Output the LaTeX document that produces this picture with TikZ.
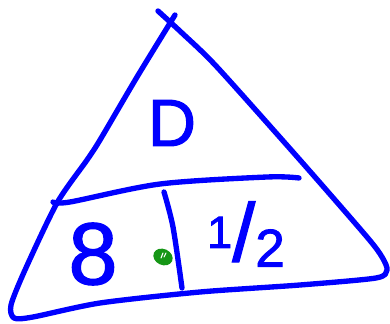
\documentclass[tikz,border=0pt]{standalone}
\usepackage{fontspec}
\newfontfamily\hand[FakeBold=1.5]{Liberation Sans}
\definecolor{pen}{rgb}{0,0,1}
\definecolor{dotgreen}{RGB}{22,150,22}
\begin{document}
\begin{tikzpicture}[x=0.75pt,y=-0.75pt,
  penline/.style={draw=pen,line width=4pt,line cap=round,line join=round},
  handtext/.style={text=pen,inner sep=0pt,font=\hand}]
\useasboundingbox (0,0) rectangle (390,324);
% outer triangle stroke
\draw[penline] plot[smooth,tension=0.45] coordinates {(175,15) (137,77) (100,140) (87,160) (57,203) (25,270) (11,305) (14,318) (33,317) (100,303) (200,292) (300,285) (376,278) (387,270) (382,257) (367,237) (300,160) (217,67) (182,33) (158,11)};
% horizontal divider
\draw[penline] plot[smooth,tension=0.5] coordinates {(53,202) (70,202) (160,184) (267,177) (299,178)};
% vertical divider
\draw[penline] plot[smooth,tension=0.5] coordinates {(164,192) (173,227) (182,288)};
% texts
\node[handtext,font=\hand\fontsize{50}{50}\selectfont] (d) at (172,123) {D};
\node[handtext,font=\hand\fontsize{66}{66}\selectfont] (eight) at (93,254) {8};
\node[handtext] (half) at (246,234) {\fontsize{34}{34}\selectfont\raisebox{10pt}{1}\fontsize{62}{62}\selectfont/\fontsize{40}{40}\selectfont\raisebox{-4pt}{2}};
% green dot
\fill[dotgreen,rotate around={-25:(163,257)}] (163,257) ellipse [x radius=10, y radius=8];
\draw[white,line width=0.8pt,line cap=round] (161,258) -- (163,253) (164,257) -- (166,253);
\end{tikzpicture}
\end{document}
